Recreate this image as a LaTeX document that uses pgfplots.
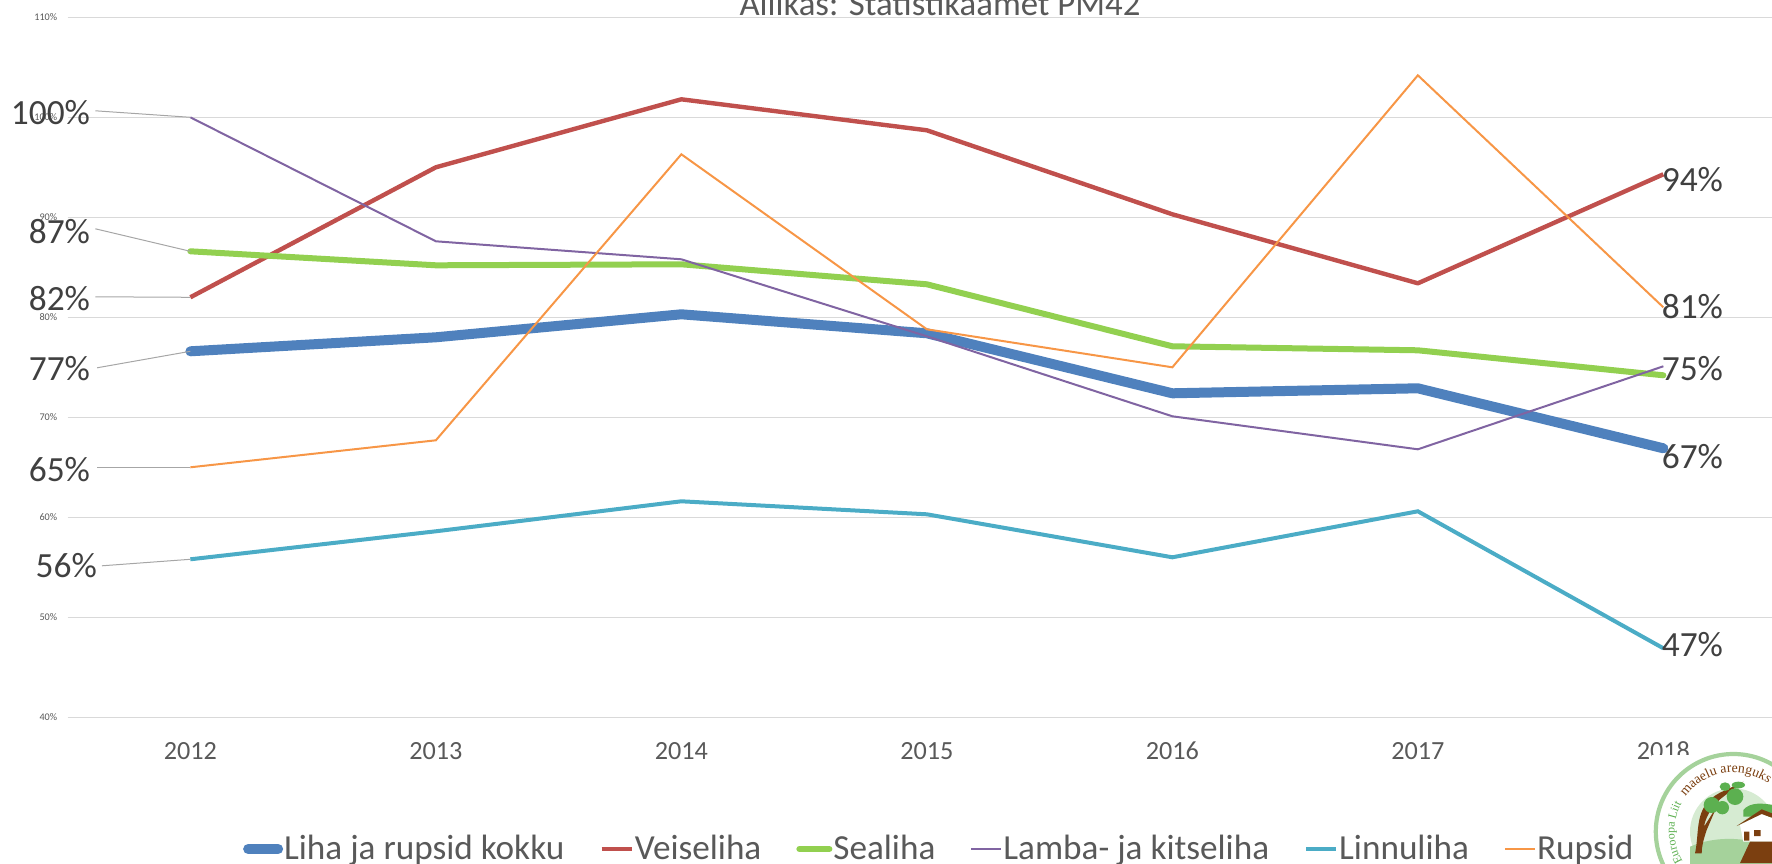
\documentclass[border=0pt]{standalone}
\usepackage{fontspec}
\setmainfont{Carlito}
\newfontfamily\logofont{Liberation Serif}
\usepackage{pgfplots}
\pgfplotsset{compat=1.18}
\usetikzlibrary{decorations.text}
\definecolor{cblue}{HTML}{4F81BD}
\definecolor{cred}{HTML}{C0504D}
\definecolor{cgreen}{HTML}{92D050}
\definecolor{cpurple}{HTML}{8064A2}
\definecolor{cteal}{HTML}{4BACC6}
\definecolor{corange}{HTML}{F79646}
\definecolor{cgrid}{HTML}{D9D9D9}
\definecolor{ctext}{HTML}{595959}
\definecolor{clabel}{HTML}{404040}
\definecolor{cbrown}{HTML}{7B3F10}
\definecolor{lring}{HTML}{A5D29B}
\definecolor{lgreen}{HTML}{5CB050}
\definecolor{cleader}{HTML}{A6A6A6}
\begin{document}
\begin{tikzpicture}
\path[use as bounding box,clip] (0,0) rectangle (886pt,431.5pt);
\begin{axis}[
  at={(33.8pt,72.85pt)}, anchor=origin, scale only axis,
  width=852.2pt, height=350pt,
  xmin=2011.5, xmax=2018.4426, ymin=40, ymax=110,
  clip mode=individual,
  axis line style={draw=none},
  major tick length=0pt,
  ymajorgrids, grid style={cgrid,line width=0.7pt},
  xtick={2012,2013,2014,2015,2016,2017,2018},
  xticklabels={2012,2013,2014,2015,2016,2017,2018},
  ytick={40,50,60,70,80,90,100,110},
  yticklabels={40\%,50\%,60\%,70\%,80\%,90\%,100\%,110\%},
  xticklabel style={font=\fontsize{13.1}{15}\selectfont,text=ctext,inner sep=0pt,anchor=base,yshift=-21.2pt},
  yticklabel style={font=\fontsize{5.1}{6}\selectfont,text=ctext,inner sep=0pt,xshift=-5pt},
  legend columns=6,
  legend cell align=left,
  legend image code/.code={\draw[#1] (0pt,0pt) -- (15pt,0pt);},
  legend style={draw=none,fill=none,font=\fontsize{17.6}{21}\selectfont,text=ctext,
    at={(axis cs:2012.215,40)},anchor=north west,yshift=-59pt,inner sep=0pt,outer sep=0pt,
    nodes={inner sep=0pt,outer sep=0pt},
    /tikz/every even column/.append style={column sep=17.5pt},
    /tikz/every odd column/.append style={column sep=0.5pt}},
]
\addplot[color=cblue,line width=5pt,line cap=round,line join=round] coordinates {(2012,76.6)(2013,78.0)(2014,80.3)(2015,78.4)(2016,72.4)(2017,72.9)(2018,66.9)};
\addlegendentry{Liha ja rupsid kokku}
\addplot[color=cred,line width=2.2pt,line join=round] coordinates {(2012,82.0)(2013,95.0)(2014,101.8)(2015,98.7)(2016,90.3)(2017,83.4)(2018,94.3)};
\addlegendentry{Veiseliha}
\addplot[color=cgreen,line width=3pt,line cap=round,line join=round] coordinates {(2012,86.6)(2013,85.2)(2014,85.3)(2015,83.3)(2016,77.1)(2017,76.7)(2018,74.2)};
\addlegendentry{Sealiha}
\addplot[color=cpurple,line width=1pt] coordinates {(2012,100)(2013,87.6)(2014,85.8)(2015,78.1)(2016,70.1)(2017,66.8)(2018,75.1)};
\addlegendentry{Lamba- ja kitseliha}
\addplot[color=cteal,line width=2pt] coordinates {(2012,55.8)(2013,58.6)(2014,61.6)(2015,60.3)(2016,56.0)(2017,60.6)(2018,46.9)};
\addlegendentry{Linnuliha}
\addplot[color=corange,line width=1pt] coordinates {(2012,65.0)(2013,67.7)(2014,96.3)(2015,78.8)(2016,75.0)(2017,104.2)(2018,81.0)};
\addlegendentry{Rupsid}
% leader lines
\addplot[forget plot,cleader,line width=0.5pt] coordinates {(2011.613,100.65)(2012,100)};
\addplot[forget plot,cleader,line width=0.5pt] coordinates {(2011.613,88.85)(2012,86.6)};
\addplot[forget plot,cleader,line width=0.5pt] coordinates {(2011.613,82.05)(2012,82.0)};
\addplot[forget plot,cleader,line width=0.5pt] coordinates {(2011.62,74.95)(2012,76.6)};
\addplot[forget plot,cleader,line width=0.5pt] coordinates {(2011.62,65.0)(2012,65.0)};
\addplot[forget plot,cleader,line width=0.5pt] coordinates {(2011.64,55.15)(2012,55.8)};
% data labels
\tikzset{dl/.style={font=\fontsize{17.7}{20}\selectfont,text=clabel,inner sep=0pt}}
\node[dl,anchor=east] at (axis cs:2011.593,100.45) {100\%};
\node[dl,anchor=east] at (axis cs:2011.593,88.6) {87\%};
\node[dl,anchor=east] at (axis cs:2011.593,81.85) {82\%};
\node[dl,anchor=east] at (axis cs:2011.593,74.85) {77\%};
\node[dl,anchor=east] at (axis cs:2011.593,64.75) {65\%};
\node[dl,anchor=east] at (axis cs:2011.621,55.15) {56\%};
\node[dl,anchor=west] at (axis cs:2017.992,93.8) {94\%};
\node[dl,anchor=west] at (axis cs:2017.992,81.05) {81\%};
\node[dl,anchor=west] at (axis cs:2017.992,74.85) {75\%};
\node[dl,anchor=west] at (axis cs:2017.992,66.1) {67\%};
\node[dl,anchor=west] at (axis cs:2017.992,47.25) {47\%};
\end{axis}
% clipped chart title
\node[anchor=base,inner sep=0pt,text=ctext,font=\fontsize{17.4}{20}\selectfont] at (470pt,423.6pt) {Allikas: Statistikaamet PM42};
% logo
\fill[white] (826pt,0pt) rectangle (886pt,54pt);
\draw[lring,line width=2.1pt] (866.7pt,15.7pt) circle (38.8pt);
\begin{scope}[shift={(700pt,106.5pt)},x=0.16667pt,y=-0.16667pt]
\fill[lring!45] (1000,545) circle (130);
\fill[lring] (870,590) .. controls (950,555) and (1050,560) .. (1130,600) -- (1130,680) -- (870,680) -- cycle;
\fill[lgreen] (1030,480) .. controls (1050,455) and (1090,460) .. (1120,465) -- (1120,500) -- (1030,500) -- cycle;
\fill[cbrown] (885,610) .. controls (900,540) and (880,470) .. (960,428) -- (1030,395) -- (970,440)
  .. controls (930,470) and (915,510) .. (912,530) -- (950,470) -- (920,540) .. controls (910,570) and (905,590) .. (905,610) -- cycle;
\fill[lgreen] (935,465) circle (24) (967,473) circle (20) (1005,440) circle (25) (975,410) ellipse (16 and 13) (1015,405) ellipse (20 and 10);
\fill[white] (1020,525) -- (1085,490) -- (1116,505) -- (1116,575) -- (1030,575) -- cycle;
\fill[cbrown] (1010,528) -- (1085,478) -- (1116,490) -- (1116,503) -- (1085,492) -- cycle;
\fill[cbrown] (1032,545) rectangle (1048,572) (1062,540) rectangle (1082,558);
\fill[cbrown] (1020,639) -- (1050,575) -- (1116,575) -- (1116,639) -- cycle;
\end{scope}
\path[decorate,decoration={text along path,text align=center,text={|\logofont\fontsize{6}{7}\selectfont\color{lgreen}|Euroopa Liit}}]
  (866.7pt,15.7pt) ++(212:29.5pt) arc[start angle=212,end angle=150,radius=29.5pt];
\path[decorate,decoration={text along path,text align=center,text={|\logofont\fontsize{6.9}{8}\selectfont\color{cbrown}|maaelu arenguks}}]
  (866.7pt,15.7pt) ++(146:29.5pt) arc[start angle=146,end angle=52,radius=29.5pt];
\end{tikzpicture}
\end{document}
